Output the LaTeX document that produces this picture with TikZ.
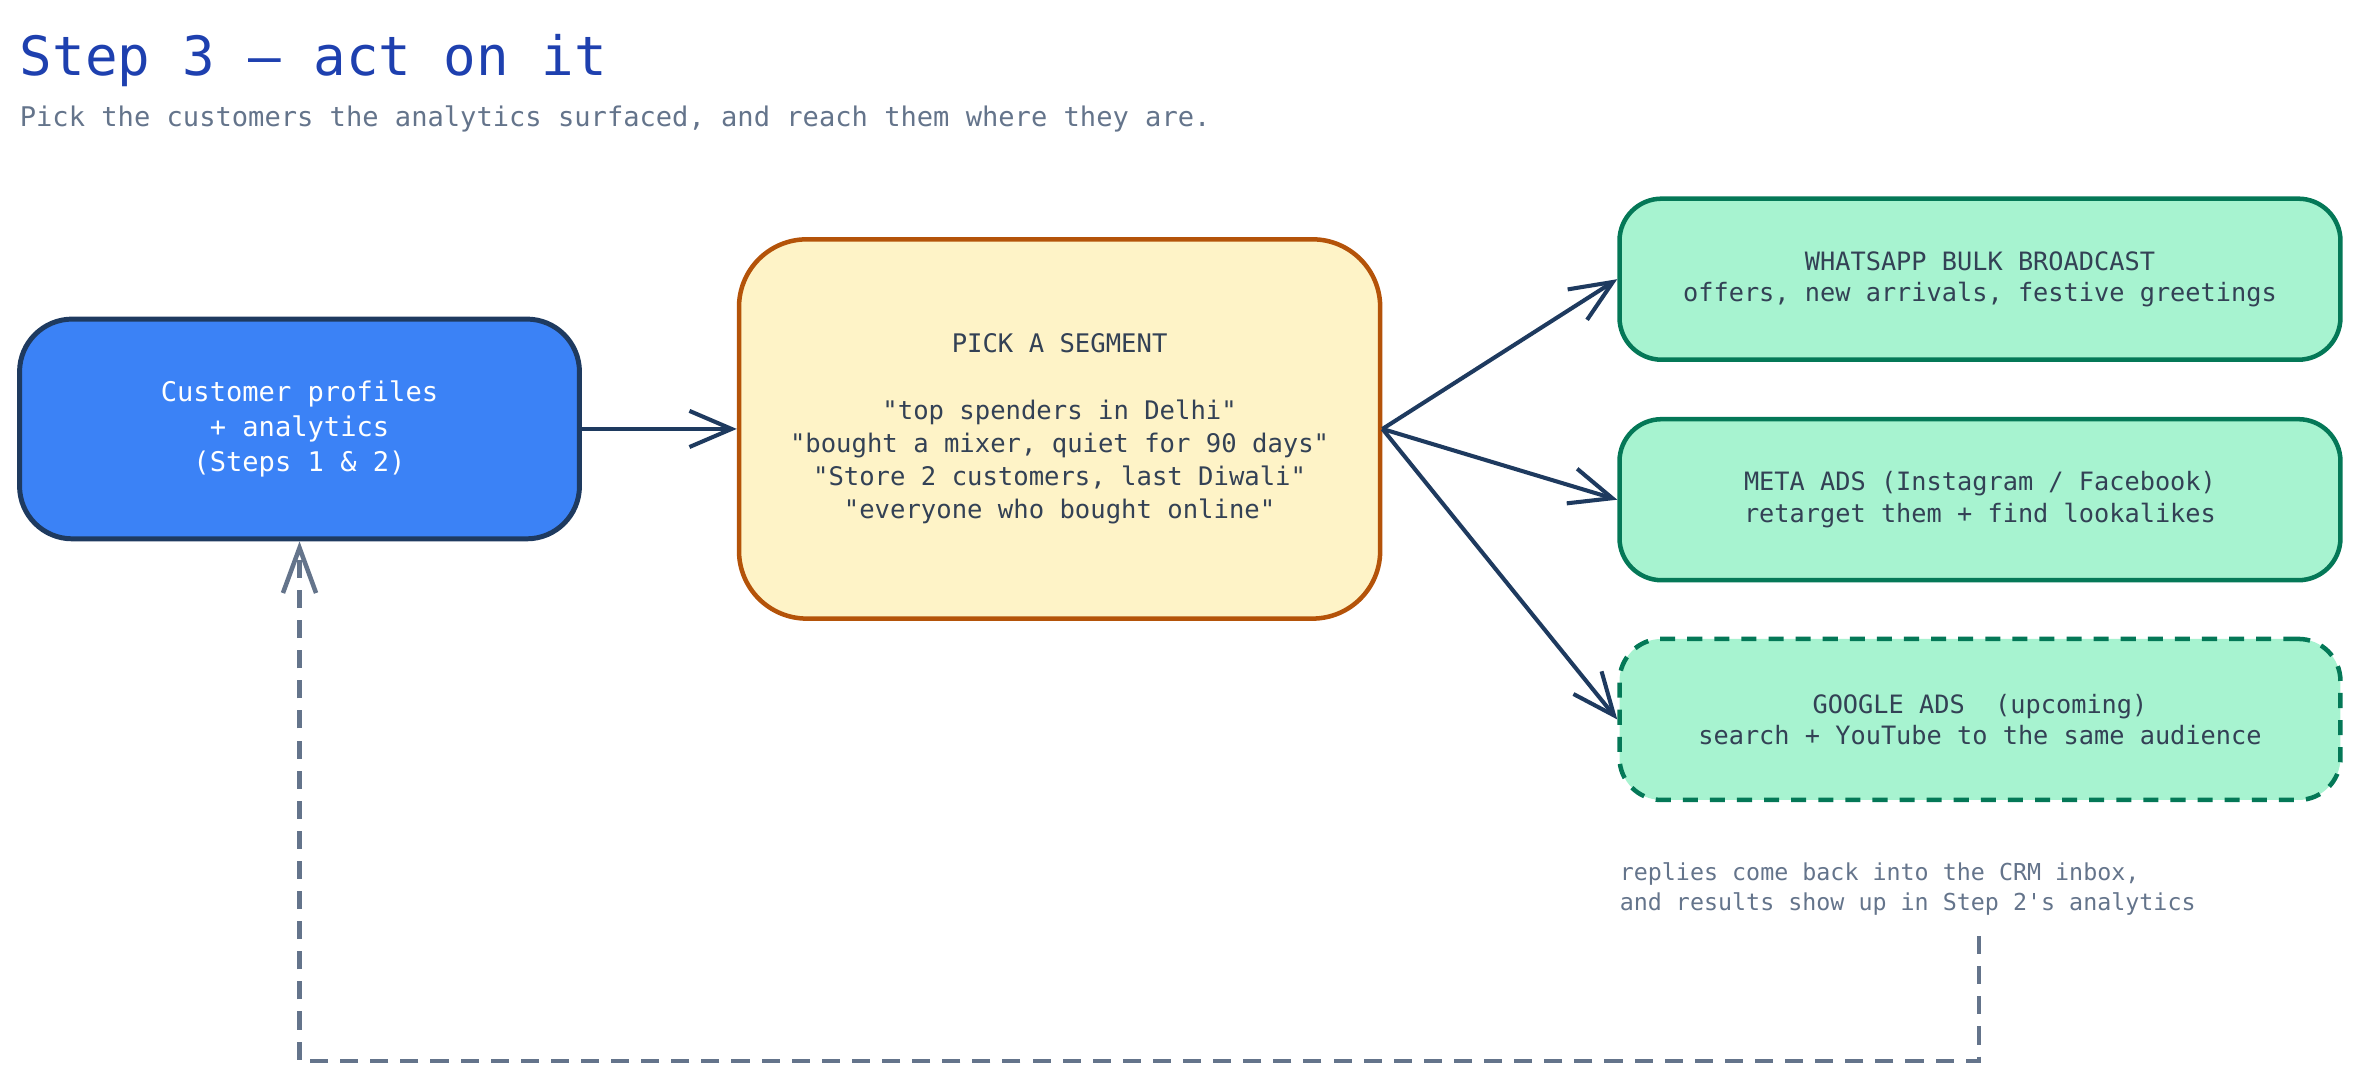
\documentclass[tikz,border=0pt]{standalone}
\usepackage{fontspec}
\setmainfont{DejaVu Sans Mono}
\usetikzlibrary{arrows.meta}
\definecolor{titleblue}{HTML}{1E40AF}
\definecolor{slate}{HTML}{64748B}
\definecolor{navy}{HTML}{1E3A5F}
\definecolor{bluefill}{HTML}{3B82F6}
\definecolor{yelfill}{HTML}{FEF3C7}
\definecolor{yelborder}{HTML}{B45309}
\definecolor{grnfill}{HTML}{A7F3D0}
\definecolor{grnborder}{HTML}{047857}
\definecolor{darktext}{HTML}{334155}
\newcommand{\qq}{\textquotedbl}
\tikzset{
  txt/.style={inner sep=0pt, anchor=base west},
  bluebox/.style={draw=navy, fill=bluefill, line width=3.3pt, rounded corners=35pt,
    minimum width=372pt, minimum height=146pt, inner sep=0pt, align=center,
    text=white, font=\fontsize{18}{23}\selectfont},
  yelbox/.style={draw=yelborder, fill=yelfill, line width=3pt, rounded corners=45pt,
    minimum width=426pt, minimum height=252pt, inner sep=0pt, align=center,
    text=darktext, font=\fontsize{17}{22}\selectfont},
  grnbox/.style={draw=grnborder, fill=grnfill, line width=3pt, rounded corners=28pt,
    minimum width=479pt, minimum height=107pt, inner sep=0pt, align=center,
    text=darktext, font=\fontsize{16.8}{21}\selectfont},
  conn/.style={draw=navy, line width=2.7pt,
    -{Straight Barb[length=28pt,width=24pt,line width=2.7pt]}},
  feedback/.style={draw=slate, line width=3pt, dash pattern=on 12pt off 8pt,
    -{Straight Barb[length=30pt,width=22pt,line width=3pt]}}
}
\begin{document}
\begin{tikzpicture}[x=1pt,y=-1pt]
\useasboundingbox (0,0) rectangle (1568,717);
\node[txt, text=titleblue, font=\fontsize{36}{40}\selectfont] (title) at (13,50) {Step 3 — act on it};
\node[txt, text=slate, font=\fontsize{18}{22}\selectfont] (sub) at (13,84) {Pick the customers the analytics surfaced, and reach them where they are.};

\node[bluebox] (A) at (199,285) {Customer profiles\\+ analytics\\(Steps 1 \& 2)};
\node[yelbox] (B) at (704,285) {PICK A SEGMENT\\[22pt]\qq top spenders in Delhi\qq\\\qq bought a mixer, quiet for 90 days\qq\\\qq Store 2 customers, last Diwali\qq\\\qq everyone who bought online\qq};
\node[grnbox] (G1) at (1315.5,185.5) {WHATSAPP BULK BROADCAST\\offers, new arrivals, festive greetings};
\node[grnbox] (G2) at (1315.5,332) {META ADS (Instagram / Facebook)\\retarget them + find lookalikes};
\node[grnbox, dash pattern=on 10pt off 8pt] (G3) at (1315.5,478) {GOOGLE ADS\ \ (upcoming)\\search + YouTube to the same audience};

\node[txt, text=slate, font=\fontsize{15.5}{20}\selectfont, align=left, anchor=north west] (note) at (1076,573) {replies come back into the CRM inbox,\\and results show up in Step 2\textquotesingle s analytics};

\draw[conn] (A.east) -- (B.west);
\draw[conn] (B.east) -- (G1.west);
\draw[conn] (B.east) -- (G2.west);
\draw[conn] (B.east) -- (G3.west);

\coordinate (fbstart) at (1315,622);
\coordinate (fbcorner) at (1315,705);
\draw[feedback] (fbstart) -- (fbcorner) -| (A.south);
\end{tikzpicture}
\end{document}
